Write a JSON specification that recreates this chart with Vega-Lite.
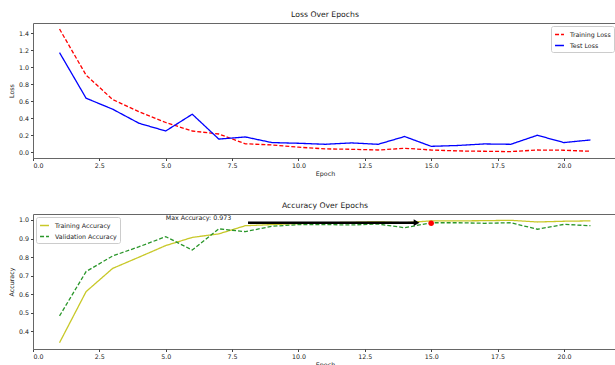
{
  "$schema": "https://vega.github.io/schema/vega-lite/v6.json",
  "padding": {"left": 7, "top": 10, "right": 0, "bottom": 0},
  "spacing": 23,
  "resolve": {"scale": {"color": "independent", "strokeDash": "independent", "y": "independent"}, "legend": {"color": "independent", "strokeDash": "independent"}},
  "config": {
    "font": "DejaVu Sans",
    "view": {"stroke": "#666", "strokeWidth": 1},
    "axis": {
      "grid": false, "domain": false, "tickColor": "#444", "tickSize": 2.5,
      "labelFontSize": 6.3, "titleFontSize": 6.3, "labelColor": "#222", "titleColor": "#222",
      "titleFontWeight": "normal", "labelPadding": 2, "labelOverlap": false
    },
    "title": {"fontSize": 7.7, "fontWeight": "normal", "color": "#222", "offset": 4},
    "legend": {
      "labelFontSize": 6.3, "labelColor": "#222", "symbolType": "stroke", "symbolSize": 80,
      "symbolStrokeWidth": 1.3, "fillColor": "white", "strokeColor": "#ccc", "padding": 3,
      "cornerRadius": 2, "rowPadding": 2, "offset": 3, "labelOffset": 5
    }
  },
  "datasets": {
    "loss": [
      {"epoch": 1, "series": "Training Loss", "value": 1.447},
      {"epoch": 2, "series": "Training Loss", "value": 0.906},
      {"epoch": 3, "series": "Training Loss", "value": 0.62},
      {"epoch": 4, "series": "Training Loss", "value": 0.475},
      {"epoch": 5, "series": "Training Loss", "value": 0.35},
      {"epoch": 6, "series": "Training Loss", "value": 0.25},
      {"epoch": 7, "series": "Training Loss", "value": 0.215},
      {"epoch": 8, "series": "Training Loss", "value": 0.1},
      {"epoch": 9, "series": "Training Loss", "value": 0.086},
      {"epoch": 10, "series": "Training Loss", "value": 0.06},
      {"epoch": 11, "series": "Training Loss", "value": 0.04},
      {"epoch": 12, "series": "Training Loss", "value": 0.035},
      {"epoch": 13, "series": "Training Loss", "value": 0.027},
      {"epoch": 14, "series": "Training Loss", "value": 0.047},
      {"epoch": 15, "series": "Training Loss", "value": 0.027},
      {"epoch": 16, "series": "Training Loss", "value": 0.016},
      {"epoch": 17, "series": "Training Loss", "value": 0.012},
      {"epoch": 18, "series": "Training Loss", "value": 0.008},
      {"epoch": 19, "series": "Training Loss", "value": 0.027},
      {"epoch": 20, "series": "Training Loss", "value": 0.024},
      {"epoch": 21, "series": "Training Loss", "value": 0.012},
      {"epoch": 1, "series": "Test Loss", "value": 1.17},
      {"epoch": 2, "series": "Test Loss", "value": 0.635},
      {"epoch": 3, "series": "Test Loss", "value": 0.506},
      {"epoch": 4, "series": "Test Loss", "value": 0.34},
      {"epoch": 5, "series": "Test Loss", "value": 0.25},
      {"epoch": 6, "series": "Test Loss", "value": 0.447},
      {"epoch": 7, "series": "Test Loss", "value": 0.155},
      {"epoch": 8, "series": "Test Loss", "value": 0.18},
      {"epoch": 9, "series": "Test Loss", "value": 0.114},
      {"epoch": 10, "series": "Test Loss", "value": 0.106},
      {"epoch": 11, "series": "Test Loss", "value": 0.094},
      {"epoch": 12, "series": "Test Loss", "value": 0.11},
      {"epoch": 13, "series": "Test Loss", "value": 0.094},
      {"epoch": 14, "series": "Test Loss", "value": 0.185},
      {"epoch": 15, "series": "Test Loss", "value": 0.07},
      {"epoch": 16, "series": "Test Loss", "value": 0.08},
      {"epoch": 17, "series": "Test Loss", "value": 0.098},
      {"epoch": 18, "series": "Test Loss", "value": 0.094},
      {"epoch": 19, "series": "Test Loss", "value": 0.2},
      {"epoch": 20, "series": "Test Loss", "value": 0.114},
      {"epoch": 21, "series": "Test Loss", "value": 0.145}
    ],
    "acc": [
      {"epoch": 1, "series": "Training Accuracy", "value": 0.339},
      {"epoch": 2, "series": "Training Accuracy", "value": 0.614},
      {"epoch": 3, "series": "Training Accuracy", "value": 0.739},
      {"epoch": 4, "series": "Training Accuracy", "value": 0.8},
      {"epoch": 5, "series": "Training Accuracy", "value": 0.862},
      {"epoch": 6, "series": "Training Accuracy", "value": 0.906},
      {"epoch": 7, "series": "Training Accuracy", "value": 0.925},
      {"epoch": 8, "series": "Training Accuracy", "value": 0.969},
      {"epoch": 9, "series": "Training Accuracy", "value": 0.975},
      {"epoch": 10, "series": "Training Accuracy", "value": 0.98},
      {"epoch": 11, "series": "Training Accuracy", "value": 0.985},
      {"epoch": 12, "series": "Training Accuracy", "value": 0.987},
      {"epoch": 13, "series": "Training Accuracy", "value": 0.99},
      {"epoch": 14, "series": "Training Accuracy", "value": 0.985},
      {"epoch": 15, "series": "Training Accuracy", "value": 0.995},
      {"epoch": 16, "series": "Training Accuracy", "value": 0.995},
      {"epoch": 17, "series": "Training Accuracy", "value": 0.996},
      {"epoch": 18, "series": "Training Accuracy", "value": 0.998},
      {"epoch": 19, "series": "Training Accuracy", "value": 0.989},
      {"epoch": 20, "series": "Training Accuracy", "value": 0.993},
      {"epoch": 21, "series": "Training Accuracy", "value": 0.995},
      {"epoch": 1, "series": "Validation Accuracy", "value": 0.483},
      {"epoch": 2, "series": "Validation Accuracy", "value": 0.722},
      {"epoch": 3, "series": "Validation Accuracy", "value": 0.806},
      {"epoch": 4, "series": "Validation Accuracy", "value": 0.856},
      {"epoch": 5, "series": "Validation Accuracy", "value": 0.91},
      {"epoch": 6, "series": "Validation Accuracy", "value": 0.838},
      {"epoch": 7, "series": "Validation Accuracy", "value": 0.952},
      {"epoch": 8, "series": "Validation Accuracy", "value": 0.937},
      {"epoch": 9, "series": "Validation Accuracy", "value": 0.966},
      {"epoch": 10, "series": "Validation Accuracy", "value": 0.975},
      {"epoch": 11, "series": "Validation Accuracy", "value": 0.975},
      {"epoch": 12, "series": "Validation Accuracy", "value": 0.973},
      {"epoch": 13, "series": "Validation Accuracy", "value": 0.978},
      {"epoch": 14, "series": "Validation Accuracy", "value": 0.958},
      {"epoch": 15, "series": "Validation Accuracy", "value": 0.985},
      {"epoch": 16, "series": "Validation Accuracy", "value": 0.985},
      {"epoch": 17, "series": "Validation Accuracy", "value": 0.982},
      {"epoch": 18, "series": "Validation Accuracy", "value": 0.985},
      {"epoch": 19, "series": "Validation Accuracy", "value": 0.95},
      {"epoch": 20, "series": "Validation Accuracy", "value": 0.976},
      {"epoch": 21, "series": "Validation Accuracy", "value": 0.969}
    ],
    "annot": [
      {"x": 8.1, "x2": 14.45, "y": 0.985, "tip": 14.45, "px": 15, "py": 0.982, "tx": 5.0, "ty": 1.008, "label": "Max Accuracy: 0.973"}
    ]
  },
  "vconcat": [
    {
      "title": "Loss Over Epochs",
      "width": 584,
      "height": 135,
      "data": {"name": "loss"},
      "mark": {"type": "line", "strokeWidth": 1.3},
      "encoding": {
        "x": {"field": "epoch", "type": "quantitative", "title": "Epoch",
              "scale": {"domain": [0, 22], "nice": false, "zero": false},
              "axis": {"values": [0, 2.5, 5, 7.5, 10, 12.5, 15, 17.5, 20], "format": ".1f", "titlePadding": 2, "labelOverlap": false}},
        "y": {"field": "value", "type": "quantitative", "title": "Loss",
              "scale": {"domain": [-0.067, 1.518], "nice": false, "zero": false},
              "axis": {"values": [0, 0.2, 0.4, 0.6, 0.8, 1.0, 1.2, 1.4], "format": ".1f", "titlePadding": 4, "labelOverlap": false}},
        "color": {"field": "series", "type": "nominal",
                  "scale": {"domain": ["Training Loss", "Test Loss"], "range": ["#ff0000", "#0000ff"]},
                  "legend": {"title": null, "orient": "top-right"}},
        "strokeDash": {"field": "series", "type": "nominal",
                       "scale": {"domain": ["Training Loss", "Test Loss"], "range": [[4, 2], [1, 0]]},
                       "legend": {"title": null, "orient": "top-right"}}
      }
    },
    {
      "title": "Accuracy Over Epochs",
      "width": 584,
      "height": 135,
      "encoding": {
        "x": {"type": "quantitative", "title": "Epoch",
              "scale": {"domain": [0, 22], "nice": false, "zero": false},
              "axis": {"values": [0, 2.5, 5, 7.5, 10, 12.5, 15, 17.5, 20], "format": ".1f", "titlePadding": 2, "labelOverlap": false}},
        "y": {"type": "quantitative", "title": "Accuracy",
              "scale": {"domain": [0.305, 1.032], "nice": false, "zero": false},
              "axis": {"values": [0.4, 0.5, 0.6, 0.7, 0.8, 0.9, 1.0], "format": ".1f", "titlePadding": 4, "labelOverlap": false}}
      },
      "layer": [
        {
          "data": {"name": "acc"},
          "mark": {"type": "line", "strokeWidth": 1.3},
          "encoding": {
            "x": {"field": "epoch"},
            "y": {"field": "value"},
            "color": {"field": "series", "type": "nominal",
                      "scale": {"domain": ["Training Accuracy", "Validation Accuracy"], "range": ["#c8c828", "#2a962a"]},
                      "legend": {"title": null, "orient": "top-left"}},
            "strokeDash": {"field": "series", "type": "nominal",
                           "scale": {"domain": ["Training Accuracy", "Validation Accuracy"], "range": [[1, 0], [4, 2]]},
                           "legend": {"title": null, "orient": "top-left"}}
          }
        },
        {
          "data": {"name": "annot"},
          "mark": {"type": "rule", "color": "black", "strokeWidth": 2.5},
          "encoding": {
            "x": {"field": "x"},
            "x2": {"field": "x2"},
            "y": {"field": "y"}
          }
        },
        {
          "data": {"name": "annot"},
          "mark": {"type": "point", "shape": "triangle-right", "filled": true, "color": "black", "size": 45, "opacity": 1},
          "encoding": {
            "x": {"field": "tip"},
            "y": {"field": "y"}
          }
        },
        {
          "data": {"name": "annot"},
          "mark": {"type": "point", "shape": "circle", "filled": true, "color": "#ff0000", "size": 30, "opacity": 1},
          "encoding": {
            "x": {"field": "px"},
            "y": {"field": "py"}
          }
        },
        {
          "data": {"name": "annot"},
          "mark": {"type": "text", "align": "left", "baseline": "middle", "fontSize": 6.3, "color": "#222"},
          "encoding": {
            "x": {"field": "tx"},
            "y": {"field": "ty"},
            "text": {"field": "label"}
          }
        }
      ]
    }
  ]
}
